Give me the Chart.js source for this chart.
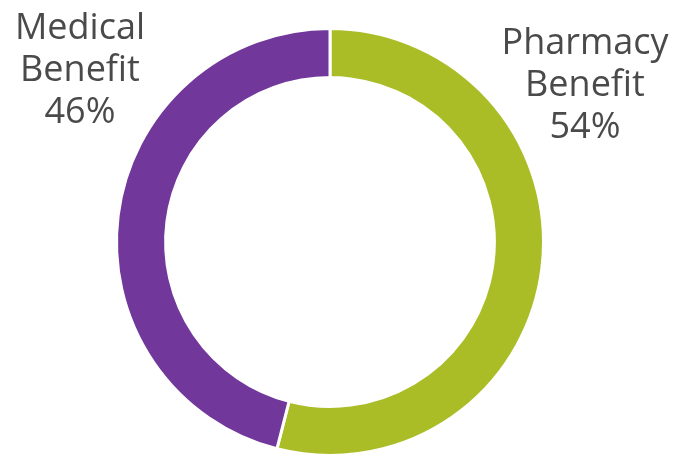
<!DOCTYPE html>
<html>
<head>
<meta charset="utf-8">
<script src="https://cdn.jsdelivr.net/npm/chart.js@4"></script>
<style>
  html, body { margin: 0; padding: 0; background: #fff; }
  #wrap { width: 677px; height: 457px; }
</style>
</head>
<body>
<div id="wrap"><canvas id="myChart"></canvas></div>
<script>
const categories = ['Pharmacy Benefit', 'Medical Benefit'];
const shares = [54, 46];
const colors = ['#AABD26', '#71379A'];

// outside labels, drawn as text lines
const sideLabels = {
    id: 'sideLabels',
    afterDraw(chart) {
        const ctx = chart.ctx;
        ctx.save();
        ctx.font = '36px "Open Sans"';
        ctx.fillStyle = '#4a4a4a';
        ctx.textAlign = 'center';
        ctx.textBaseline = 'alphabetic';
        const spots = [
            { x: 585, y: 54 },  // Pharmacy
            { x: 80, y: 39 }    // Medical
        ];
        categories.forEach((name, i) => {
            const lines = name.split(' ').concat([shares[i] + '%']);
            lines.forEach((t, j) => {
                ctx.fillText(t, spots[i].x, spots[i].y + j * 42);
            });
        });
        ctx.restore();
    }
};

document.addEventListener("DOMContentLoaded", function() {
    const ctx = document.getElementById('myChart').getContext('2d');

    new Chart(ctx, {
        type: 'doughnut',
        data: {
            labels: categories,
            datasets: [{
                data: shares,
                backgroundColor: colors,
                borderColor: '#ffffff',
                borderWidth: 3
            }]
        },
        options: {
            responsive: true,
            maintainAspectRatio: false,
            animation: false,
            cutout: '77%',
            layout: {
                padding: { left: 115, right: 132, top: 27, bottom: 0 }
            },
            plugins: {
                legend: { display: false },
                tooltip: { enabled: false }
            }
        },
        plugins: [sideLabels]
    });
});
</script>
</body>
</html>
